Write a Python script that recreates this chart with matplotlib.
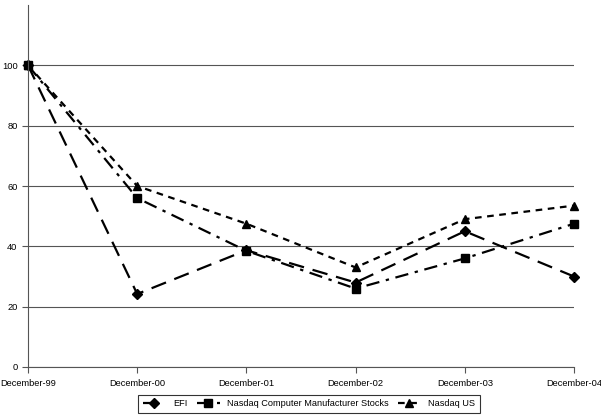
import matplotlib
matplotlib.use("Agg")
import matplotlib.pyplot as plt

plt.rcParams['font.family'] = ['Liberation Sans', 'DejaVu Sans']

# Data
dates = ["December-99", "December-00", "December-01", "December-02", "December-03", "December-04"]
efi = [100, 24.2, 38.7, 28.0, 45.0, 30.0]
nasdaq_comp = [100, 56.0, 38.5, 26.0, 36.0, 47.5]
nasdaq_us = [100, 60.0, 47.5, 33.0, 49.0, 53.5]
yticks = [0, 20, 40, 60, 80, 100]

fig = plt.figure(figsize=(6.01, 4.18), dpi=100)
ax = fig.add_axes([28 / 601, 51 / 418, 546 / 601, 362 / 418])

x = list(range(len(dates)))
ax.plot(x, efi, color='black', lw=1.6, dashes=(7, 4), marker='D', markersize=5,
        label='EFI', clip_on=False)
ax.plot(x, nasdaq_comp, color='black', lw=1.6, dashes=(6, 3, 1.5, 3), marker='s', markersize=6,
        label='Nasdaq Computer Manufacturer Stocks', clip_on=False)
ax.plot(x, nasdaq_us, color='black', lw=1.6, dashes=(3, 2.5), marker='^', markersize=6,
        label='Nasdaq US', clip_on=False)

ax.set_xlim(0, 5)
ax.set_ylim(0, 120)
ax.set_yticks(yticks)
ax.set_xticks(x)
ax.set_xticklabels(dates)
ax.yaxis.grid(True, color='#555555', lw=0.8)
ax.set_axisbelow(True)
for s in ['top', 'right']:
    ax.spines[s].set_visible(False)
ax.spines['left'].set_color('#555555')
ax.spines['bottom'].set_color('#555555')
ax.tick_params(axis='both', labelsize=6.7, color='#555555', length=4)
ax.tick_params(axis='x', pad=5)

leg = fig.legend(loc='lower center', bbox_to_anchor=(309 / 601, 5 / 418),
                 ncol=3, fontsize=6.6, frameon=True,
                 fancybox=False, edgecolor='black', handlelength=2.5, handletextpad=0.8,
                 columnspacing=1.0, borderpad=0.5, borderaxespad=0)
leg.get_frame().set_linewidth(0.8)

fig.savefig("out.png", dpi=100)
